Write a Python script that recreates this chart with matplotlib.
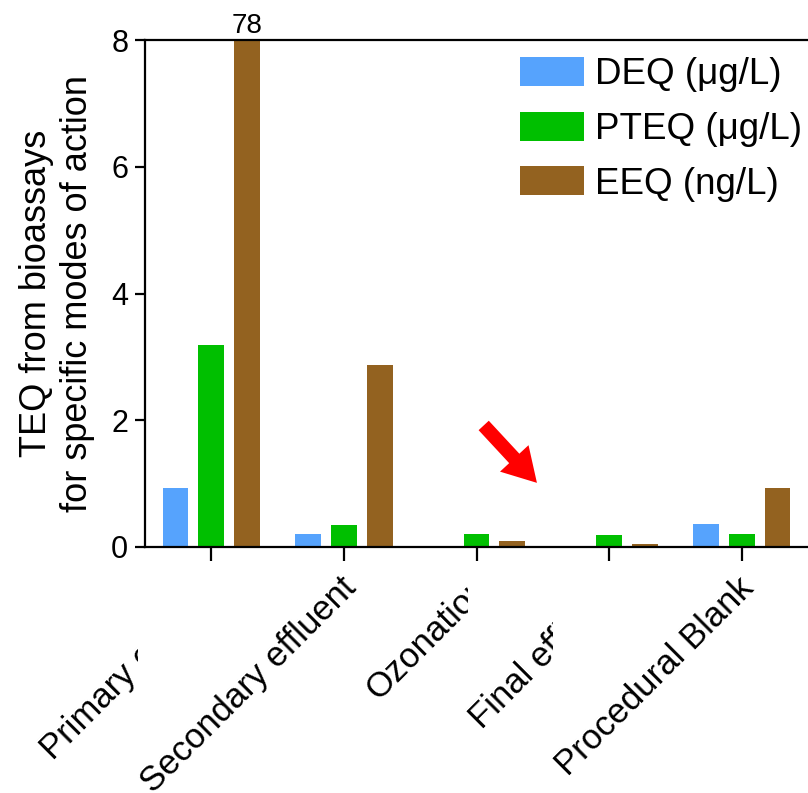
import matplotlib
matplotlib.use("Agg")
import matplotlib.pyplot as plt
import numpy as np
from matplotlib.patches import Rectangle
from matplotlib.transforms import offset_copy

plt.rcParams["font.family"] = ["Liberation Sans", "DejaVu Sans"]

categories = ["Primary effluent", "Secondary effluent", "Ozonation", "Final effluent", "Procedural Blank"]
deq = [0.93, 0.20, 0.02, 0.01, 0.36]
pteq = [3.18, 0.35, 0.20, 0.19, 0.20]
eeq = [78.0, 2.87, 0.10, 0.05, 0.93]
series_labels = ["DEQ (μg/L)", "PTEQ (μg/L)", "EEQ (ng/L)"]
colors = ["#56a3fd", "#00bf00", "#936220"]
y_max = 8

fig = plt.figure(figsize=(8.08, 7.93), dpi=100)
ax = fig.add_axes([145 / 808, 246 / 793, 663 / 808, 507 / 793])

x = np.arange(len(categories))
offset = 0.27
width = 0.195
for k, (vals, lab, col) in enumerate(zip([deq, pteq, eeq], series_labels, colors)):
    shown = np.minimum(vals, y_max)
    ax.bar(x + (k - 1) * offset, shown, width=width, color=col, label=lab, zorder=2)
    for xi, v in zip(x, vals):
        if v > y_max:
            ax.annotate(f"{v:g}", (xi + (k - 1) * offset, y_max), xytext=(0, 1),
                        textcoords="offset points", ha="center", va="bottom",
                        fontsize=20, annotation_clip=False)

ax.set_xlim(-0.5, 4.5)
ax.set_ylim(0, y_max)
ax.set_yticks([0, 2, 4, 6, 8])
ax.set_xticks(x)
ax.set_xticklabels([])
ax.tick_params(axis="y", labelsize=22, width=1.6, length=7, pad=5)
ax.tick_params(axis="x", width=1.6, length=10)
for side in ["left", "bottom", "top"]:
    ax.spines[side].set_linewidth(1.6)
ax.spines["right"].set_visible(False)

ax.set_ylabel("TEQ from bioassays\nfor specific modes of action", fontsize=26, labelpad=12)

leg = ax.legend(loc="upper left", bbox_to_anchor=(520 / 808, 1 - 57 / 793),
                bbox_transform=fig.transFigure, frameon=False, fontsize=26.5,
                handlelength=1.75, handleheight=0.85, handletextpad=0.28,
                labelspacing=0.52, borderpad=0, borderaxespad=0)

ax.annotate("", xy=(2.47, 0.98), xytext=(2.04, 1.95),
            arrowprops=dict(arrowstyle="simple,head_length=1.2,head_width=1.4,tail_width=0.5",
                            mutation_scale=20, color="red", lw=0))

# x labels: each one drawn over the previous with a white box behind it
trans = offset_copy(ax.get_xaxis_transform(), fig=fig, x=-5, y=-24, units="dots")
texts = []
for i, lab in enumerate(categories):
    t = ax.text(i, 0, lab, transform=trans, rotation=45, rotation_mode="anchor",
                ha="right", va="top", fontsize=25, clip_on=False, zorder=10 + 2 * i)
    texts.append(t)

fig.canvas.draw()
renderer = fig.canvas.get_renderer()
inv = ax.transAxes.inverted()
for i, t in enumerate(texts):
    bb = t.get_window_extent(renderer)
    (x0, y0), (x1, y1) = inv.transform([[bb.x0 + 4, bb.y0], [bb.x1, bb.y1]])
    ax.add_patch(Rectangle((x0, y0), x1 - x0, y1 - y0, transform=ax.transAxes,
                           facecolor="white", edgecolor="none", clip_on=False,
                           zorder=9 + 2 * i))

fig.savefig("out.png", dpi=100)
